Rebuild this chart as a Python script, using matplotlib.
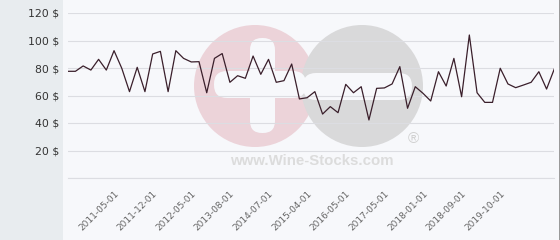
import matplotlib.pyplot as plt
import numpy as np
from matplotlib.patches import Circle, FancyBboxPatch, Rectangle
from matplotlib.transforms import Affine2D

# monthly price points (index axis, labels only every 5th point)
prices = [77.6, 77.6, 81.5, 78.5, 86.3, 78.5, 92.6, 79.8, 62.8, 80.5,
          62.8, 90.2, 92.1, 62.8, 92.6, 87.0, 84.4, 84.6, 62.0, 87.0,
          90.5, 69.6, 74.4, 72.5, 88.7, 75.4, 86.3, 69.6, 70.8, 82.9,
          57.5, 58.4, 62.8, 46.5, 51.9, 47.5, 68.1, 62.0, 66.4, 42.2,
          65.2, 65.5, 68.4, 81.0, 50.7, 66.4, 61.6, 56.0, 77.3, 66.9,
          87.0, 59.1, 104.0, 62.0, 55.0, 55.0, 79.8, 68.4, 65.7, 67.6,
          69.6, 77.3, 64.7, 79.3]

tick_labels = ["2011-05-01", "2011-12-01", "2012-05-01", "2013-08-01",
               "2014-07-01", "2015-04-01", "2016-05-01", "2017-05-01",
               "2018-01-01", "2018-09-01", "2019-10-01"]
tick_pos = [6, 11, 16, 21, 26, 31, 36, 41, 46, 51, 56]

y_ticks = [20, 40, 60, 80, 100, 120]

W, H = 560, 240
bg = '#f7f8fb'
fig = plt.figure(figsize=(W / 100, H / 100), dpi=100)
fig.patch.set_facecolor(bg)

# pixel coords from the top-left corner
pix = Affine2D().scale(1, -1).translate(0, H)

# left grey band and right border
fig.patches.append(Rectangle((0, 0), 63, H, transform=pix,
                             facecolor='#e8ecef', edgecolor='none'))
fig.patches.append(Rectangle((558.5, 0), 1.2, H, transform=pix,
                             facecolor='#9a9a9a', edgecolor='none'))

# watermark
wm = [Circle((255, 86), 61, facecolor='#ecd3d9'),
      Circle((362, 86), 61, facecolor='#d9d9da'),
      FancyBboxPatch((250, 38), 25, 95, boxstyle='round,pad=0,rounding_size=12',
                     facecolor=bg),
      FancyBboxPatch((214, 71), 92, 27, boxstyle='round,pad=0,rounding_size=13',
                     facecolor=bg),
      FancyBboxPatch((303, 73), 109, 27, boxstyle='round,pad=0,rounding_size=13',
                     facecolor=bg)]
for p in wm:
    p.set_transform(pix)
    p.set_edgecolor('none')
    fig.patches.append(p)
fig.text(312 / W, (H - 161) / H, "www.Wine-Stocks.com", ha='center', va='center',
         fontsize=10.8, fontweight='bold', family='Liberation Sans', color='#dcdcdc')
fig.text(413 / W, (H - 139) / H, "\u00ae", ha='center', va='center',
         fontsize=11, family='Liberation Sans', color='#d0d0d0')

ax = fig.add_axes([67.7 / W, (H - 178) / H, (554.3 - 67.7) / W, 165 / H])
ax.set_facecolor('none')
ax.set_zorder(2)

x = np.arange(len(prices))
ax.plot(x, prices, color='#3a1f2b', linewidth=0.9, zorder=3)

ax.set_xlim(0, len(prices) - 1)
ax.set_ylim(0, 120)
ax.set_yticks([0] + y_ticks)
ax.set_yticklabels([''] + [f'{v} $' for v in y_ticks])
ax.grid(axis='y', color='#dcdde2', linewidth=0.8)
ax.set_axisbelow(True)
for s in ['top', 'right', 'left']:
    ax.spines[s].set_visible(False)
ax.spines['bottom'].set_color('#dcdde2')
ax.spines['bottom'].set_linewidth(0.8)

ax.set_xticks(tick_pos)
ax.set_xticklabels(tick_labels, rotation=45, ha='right', va='top',
                   rotation_mode='anchor', fontsize=6.5, color='#666666')
ax.tick_params(axis='x', length=0, pad=8)
ax.tick_params(axis='y', length=0, pad=6.3, labelsize=7.8, labelcolor='#333333')

fig.savefig('out.png', dpi=100, facecolor=fig.get_facecolor())
